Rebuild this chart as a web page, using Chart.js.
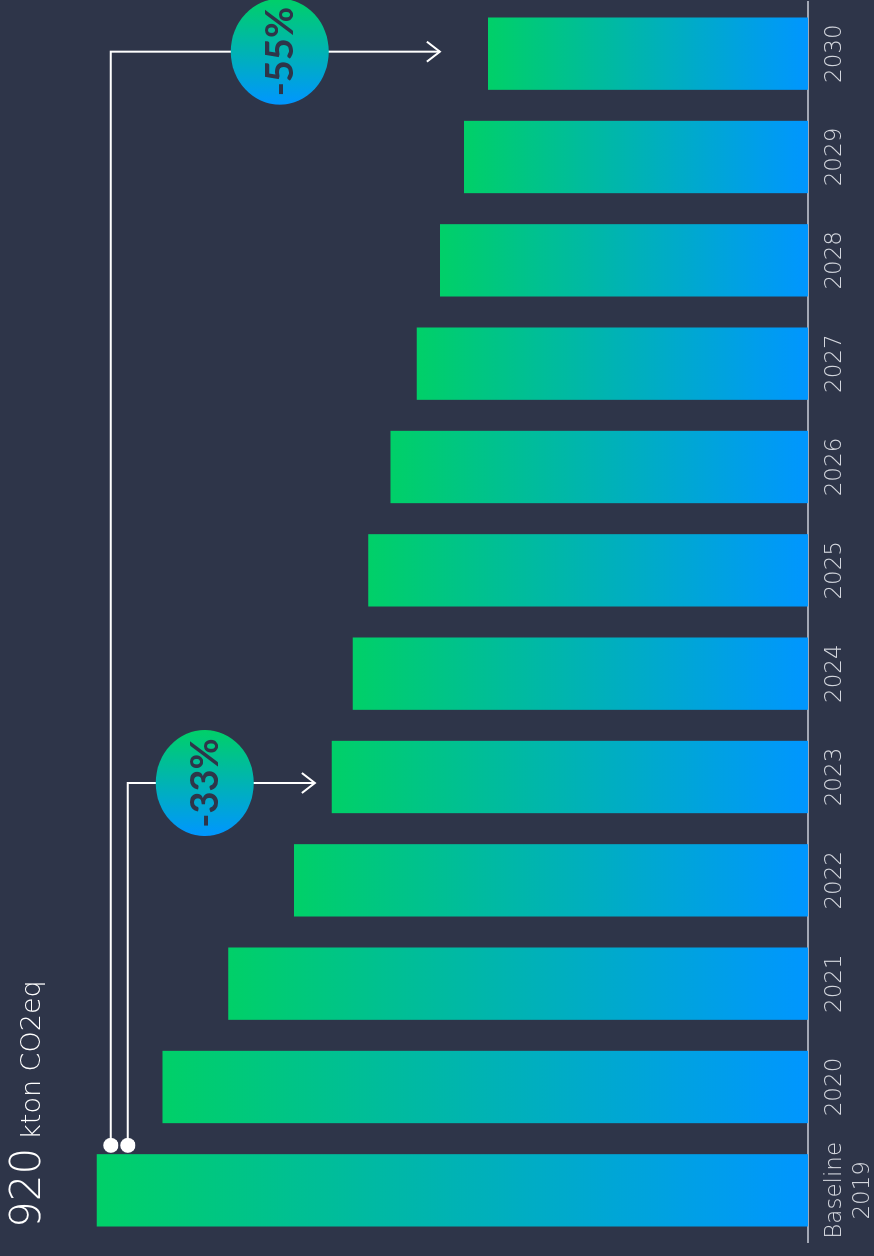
<!DOCTYPE html>
<html>
<head>
<meta charset="utf-8">
<script src="https://cdn.jsdelivr.net/npm/chart.js@4.4.1/dist/chart.umd.min.js"></script>
<style>
  html, body { margin: 0; padding: 0; background: #2e3549; overflow: hidden; }
  body { width: 874px; height: 1256px; position: relative; }
  /* the chart is drawn upright, then turned a quarter turn to the left */
  #wrap {
    position: absolute; left: 0; top: 0;
    width: 1256px; height: 874px;
    transform-origin: 0 0;
    transform: translate(0, 1256px) rotate(-90deg);
  }
</style>
</head>
<body>
<div id="wrap"><canvas id="emissions" width="1256" height="874"></canvas></div>
<script>
const years = [['Baseline', '2019'], '2020', '2021', '2022', '2023', '2024', '2025', '2026', '2027', '2028', '2029', '2030'];
const emissions = [920, 835, 750, 665, 616, 589, 569, 540, 506, 476, 445, 414]; // kton CO2eq
const unitValue = '920';
const unitLabel = 'kton CO2eq';

// reduction markers: from baseline bar to target year
const reductionFrom = [0, 0];
const reductionTo = [4, 11];
const reductionText = ['-33%', '-55%'];

const green = '#00d068';
const blue = '#0096ff';
const bg = '#2e3549';
const lightFont = '"DejaVu Sans"';

function barGradient(context) {
    const chart = context.chart;
    if (!chart.chartArea) return green;
    const y = chart.scales.y;
    const top = y.getPixelForValue(context.raw);
    const base = y.getPixelForValue(0);
    const g = chart.ctx.createLinearGradient(0, top, 0, base);
    g.addColorStop(0, green);
    g.addColorStop(1, blue);
    return g;
}

// pixel tweaks for each marker (lane below bar top, gap above target bar, circle position)
const markerLayout = [
    { lane: 31, shift: -6, gap: 17, circle: 77 },
    { lane: 14, shift: 2, gap: 48, circle: 169 }
];

const markers = {
    id: 'markers',
    afterDatasetsDraw(chart) {
        const { ctx, scales: { x, y } } = chart;
        ctx.save();
        // title
        ctx.fillStyle = '#ffffff';
        ctx.textBaseline = 'alphabetic';
        ctx.textAlign = 'left';
        ctx.font = '200 42px ' + lightFont;
        ctx.fillText(unitValue, 28, 40);
        const w = ctx.measureText(unitValue).width;
        ctx.font = '200 27px ' + lightFont;
        ctx.fillText(unitLabel, 28 + w + 8, 40);

        reductionText.forEach((txt, i) => {
            const L = markerLayout[i];
            const fromI = reductionFrom[i], toI = reductionTo[i];
            const startU = x.getPixelForValue(fromI) + 45;
            const laneV = y.getPixelForValue(emissions[fromI]) + L.lane;
            const endU = x.getPixelForValue(toI) + L.shift;
            const tipV = y.getPixelForValue(emissions[toI]) - L.gap;

            ctx.strokeStyle = '#ffffff';
            ctx.lineWidth = 2;
            ctx.beginPath();
            ctx.moveTo(startU, laneV);
            ctx.lineTo(endU, laneV);
            ctx.lineTo(endU, tipV);
            ctx.stroke();
            ctx.beginPath();
            ctx.moveTo(endU - 10, tipV - 13);
            ctx.lineTo(endU, tipV);
            ctx.lineTo(endU + 10, tipV - 13);
            ctx.stroke();

            ctx.fillStyle = '#ffffff';
            ctx.beginPath();
            ctx.arc(startU, laneV, 7.5, 0, Math.PI * 2);
            ctx.fill();

            const cv = laneV + L.circle;
            const g = ctx.createLinearGradient(endU - 53, 0, endU + 53, 0);
            g.addColorStop(0, blue);
            g.addColorStop(1, green);
            ctx.fillStyle = g;
            ctx.beginPath();
            ctx.ellipse(endU, cv, 53, 49, 0, 0, Math.PI * 2);
            ctx.fill();

            ctx.fillStyle = bg;
            ctx.font = 'bold 38px Lato';
            ctx.textAlign = 'center';
            ctx.textBaseline = 'middle';
            ctx.fillText(txt, endU, cv + 1);
            ctx.textAlign = 'left';
            ctx.textBaseline = 'alphabetic';
        });
        ctx.restore();
    }
};

new Chart(document.getElementById('emissions'), {
    type: 'bar',
    data: {
        labels: years,
        datasets: [{
            data: emissions,
            backgroundColor: barGradient,
            borderWidth: 0,
            barPercentage: 0.7,
            categoryPercentage: 1
        }]
    },
    options: {
        responsive: false,
        animation: false,
        layout: { padding: { top: 35, left: 14, right: 2, bottom: 0 } },
        plugins: { legend: { display: false }, tooltip: { enabled: false } },
        scales: {
            x: {
                grid: { display: false, drawTicks: false },
                border: { display: true, color: '#a3a8b5', width: 2 },
                ticks: {
                    color: '#d3d6dd',
                    padding: 13,
                    maxRotation: 0,
                    autoSkip: false,
                    font: { family: lightFont, size: 23, weight: '200', lineHeight: 1.22 }
                },
                afterFit(scale) { scale.height = 66; }
            },
            y: {
                display: false,
                min: 0,
                max: 1000
            }
        }
    },
    plugins: [markers]
});
</script>
</body>
</html>
